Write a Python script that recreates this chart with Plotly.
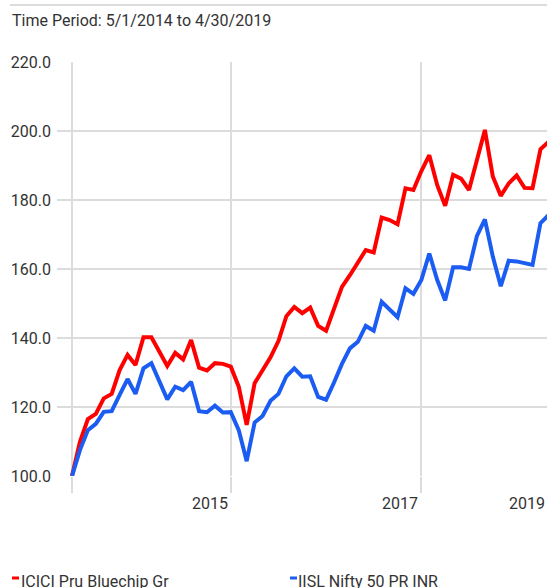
import plotly.graph_objects as go

# Month-end dates 2014-04-30 .. 2019-04-30 (61 points), equally spaced
months = [f"{y}-{m:02d}" for y in range(2014, 2020) for m in range(1, 13)]
months = months[months.index("2014-04"):months.index("2019-04") + 1]
idx = list(range(len(months)))

fund_name = "ICICI Pru Bluechip Gr"
index_name = "IISL Nifty 50 PR INR"

fund = [100.0, 109.9, 116.5, 118.0, 122.5, 123.8, 130.7, 135.1, 132.2, 140.2,
        140.2, 136.0, 131.9, 135.7, 133.8, 139.4, 131.4, 130.6, 132.7, 132.5,
        131.7, 125.9, 114.8, 126.9, 130.7, 134.4, 139.1, 146.3, 149.0, 147.2,
        148.8, 143.5, 142.1, 148.3, 154.8, 158.2, 161.8, 165.5, 164.8, 174.9,
        174.2, 173.0, 183.4, 182.9, 188.4, 193.0, 184.3, 178.3, 187.3, 186.2,
        182.9, 191.6, 200.3, 186.8, 181.2, 184.8, 187.1, 183.5, 183.4, 194.7,
        196.8]

bench = [100.0, 107.5, 113.3, 115.1, 118.6, 118.8, 123.5, 128.1, 123.8, 131.2,
         132.7, 127.3, 122.2, 125.9, 124.9, 127.3, 118.8, 118.5, 120.4, 118.4,
         118.5, 113.3, 104.3, 115.5, 117.4, 121.8, 123.8, 128.9, 131.2, 128.8,
         128.9, 122.9, 122.1, 127.1, 132.5, 137.0, 138.9, 143.5, 142.1, 150.5,
         148.3, 146.0, 154.4, 152.8, 156.8, 164.5, 156.8, 150.9, 160.5, 160.5,
         160.0, 169.6, 174.4, 163.6, 155.0, 162.4, 162.2, 161.8, 161.2, 173.3,
         175.6]

y_ticks = [100, 120, 140, 160, 180, 200, 220]
y_labels = [f"{v:.1f}" for v in y_ticks]
x_grid_months = ["2014-04", "2015-12", "2017-12"]
x_label_text = ["2015", "2017"]
x_label_months = ["2015-12", "2017-12"]
last_label = "2019"

RED = "#FF0000"
BLUE = "#1B5CF2"
GRID = "#DCDCDC"
TEXT = "#333333"
FONT = "Roboto, Liberation Sans, sans-serif"
FS = 16

W, H = 547, 588
L, R, T, B = 57, 0, 62, 112
pw = W - L - R
ph = H - T - B

def px_x(p):
    return (p - L) / pw

def px_y(p):
    return (H - B - p) / ph

fig = go.Figure()
fig.add_trace(go.Scatter(x=idx, y=fund, mode="lines", name=fund_name,
                         line=dict(color=RED, width=4), showlegend=False))
fig.add_trace(go.Scatter(x=idx, y=bench, mode="lines", name=index_name,
                         line=dict(color=BLUE, width=4), showlegend=False))

step = 7.94
x_lo = -(72 - L) / step
x_hi = x_lo + pw / step

fig.update_xaxes(range=[x_lo, x_hi], tickmode="array",
                 tickvals=[months.index(m) for m in x_grid_months],
                 showticklabels=False, showgrid=True, gridcolor=GRID, gridwidth=2,
                 ticks="outside", ticklen=16, tickcolor=GRID, tickwidth=2,
                 zeroline=False, showline=False)
fig.update_yaxes(range=[100, 220], tickmode="array", tickvals=y_ticks,
                 ticktext=y_labels, showgrid=True, gridcolor=GRID, gridwidth=2,
                 zeroline=False, showline=False, ticks="", ticklabelstandoff=5,
                 tickfont=dict(family=FONT, size=FS, color=TEXT))

annotations = []
for t, m in zip(x_label_text, x_label_months):
    annotations.append(dict(x=months.index(m), xref="x", y=px_y(492), yref="paper",
                            text=t, showarrow=False, xanchor="right", yanchor="top",
                            xshift=-1,
                            font=dict(family=FONT, size=FS, color=TEXT)))
annotations.append(dict(x=1, xref="paper", y=px_y(492), yref="paper",
                        text=last_label, showarrow=False, xanchor="right", yanchor="top",
                        font=dict(family=FONT, size=FS, color=TEXT)))
annotations.append(dict(x=px_x(10), xref="paper", y=px_y(9), yref="paper",
                        text="Time Period: 5/1/2014 to 4/30/2019", showarrow=False,
                        xanchor="left", yanchor="top",
                        font=dict(family=FONT, size=FS, color=TEXT)))
for name, xs in [(fund_name, 19), (index_name, 296)]:
    annotations.append(dict(x=px_x(xs), xref="paper", y=px_y(570), yref="paper",
                            text=name, showarrow=False, xanchor="left", yanchor="top",
                            font=dict(family=FONT, size=FS, color=TEXT)))

shapes = [
    dict(type="line", xref="paper", yref="paper", x0=px_x(10), x1=1,
         y0=px_y(5), y1=px_y(5), line=dict(color=GRID, width=2)),
    dict(type="rect", xref="paper", yref="paper", x0=px_x(12), x1=px_x(19),
         y0=px_y(579.5), y1=px_y(576.5), line=dict(width=0), fillcolor=RED),
    dict(type="rect", xref="paper", yref="paper", x0=px_x(290), x1=px_x(297),
         y0=px_y(579.5), y1=px_y(576.5), line=dict(width=0), fillcolor=BLUE),
]

fig.update_layout(width=W, height=H, margin=dict(l=L, r=R, t=T, b=B, autoexpand=False),
                  paper_bgcolor="white", plot_bgcolor="white",
                  annotations=annotations, shapes=shapes, hovermode=False)

fig.write_html("out.html", config={"displayModeBar": False},
               post_script="document.body.style.margin='0';document.body.style.overflow='hidden';")
